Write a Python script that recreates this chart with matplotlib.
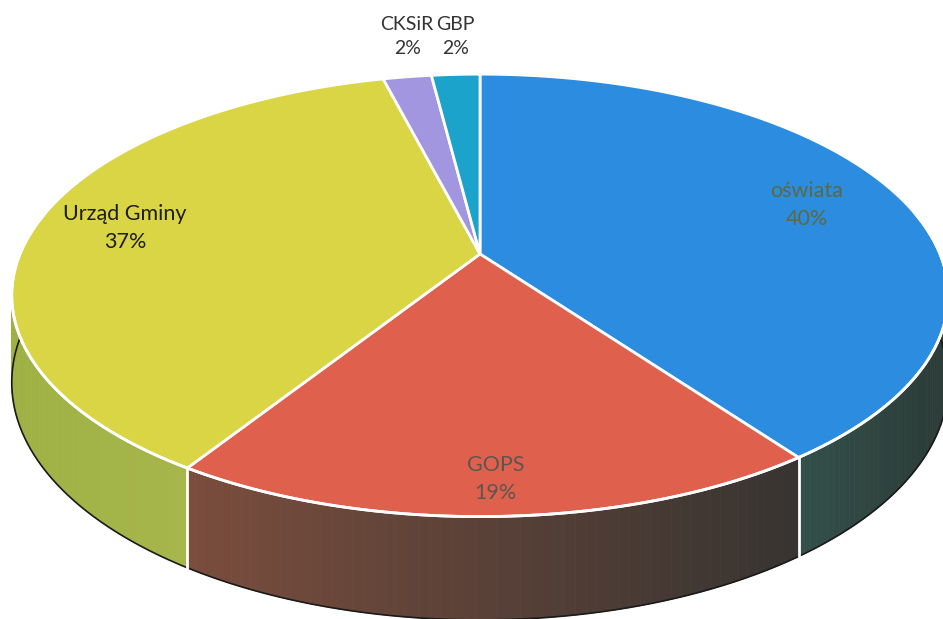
import numpy as np
import matplotlib
matplotlib.use("Agg")
import matplotlib.pyplot as plt
from matplotlib.patches import Polygon
from matplotlib.colors import to_rgb

# ---- data ----
labels = ["oświata", "GOPS", "Urząd Gminy", "CKSiR", "GBP"]
shares = [40, 19, 37, 2, 2]
pct_labels = ["40%", "19%", "37%", "2%", "2%"]

# ---- style ----
top_colors = ["#2B8CE0", "#E0604E", "#D9D545", "#A196DF", "#1CA3CB"]
side_left = ["#33504a", "#7a4d3d", "#9fb145", "#6f64a8", "#137590"]
side_right = ["#2b3a36", "#373431", "#a6b64b", "#6f64a8", "#137590"]
label_colors = ["#5d6a3c", "#5e5552", "#1e1e1e", "#333333", "#333333"]
label_r = [0.78, 0.88, 0.80, None, None]
label_size = [15.5, 15.5, 15.5, 14, 14]

CX, CY, A, B, K, DEPTH = 480.0, 254.0, 460.0, 166.0, 0.187, 84.0


def proj(theta, r=1.0, z=0.0):
    X = r * np.sin(theta)
    Y = -r * np.cos(theta)
    den = 1 - K * Y
    return CX + A * X / den, (B * Y + CY + z) / den


fig = plt.figure(figsize=(9.43, 6.19), dpi=100)
ax = fig.add_axes([0, 0, 1, 1])
ax.set_xlim(0, 943)
ax.set_ylim(619, 0)
ax.axis("off")

total = float(sum(shares))
bounds = np.concatenate([[0], np.cumsum(shares)]) / total * 2 * np.pi
vis0, vis1 = np.pi / 2, 3 * np.pi / 2

# side faces (colour shaded left -> right)
for i in range(len(shares)):
    s0, s1 = max(bounds[i], vis0), min(bounds[i + 1], vis1)
    if s1 <= s0:
        continue
    n = 60
    ts = np.linspace(s0, s1, n + 1)
    xa, _ = proj(ts)
    xmin, xmax = xa.min(), xa.max()
    cl, cr = np.array(to_rgb(side_left[i])), np.array(to_rgb(side_right[i]))
    for j in range(n):
        ta = np.linspace(ts[j], ts[j + 1], 3)
        xt, yt = proj(ta)
        xb, yb = proj(ta, z=DEPTH)
        f = (xt.mean() - xmin) / max(xmax - xmin, 1e-9)
        c = cl * (1 - f) + cr * f
        poly = np.column_stack([np.r_[xt, xb[::-1]], np.r_[yt, yb[::-1]]])
        ax.add_patch(Polygon(poly, closed=True, facecolor=c, edgecolor=c, lw=0.6, zorder=1))

# bottom outline
ta = np.linspace(vis0 - 0.2, vis1 + 0.2, 300)
xb, yb = proj(ta, z=DEPTH)
ax.plot(xb, yb, color="#1a1a1a", lw=1.2, zorder=2)

# vertical white edges on side at slice boundaries
for t in bounds[1:-1]:
    if vis0 < t < vis1:
        x0, y0 = proj(t)
        x1, y1 = proj(t, z=DEPTH)
        ax.plot([x0, x1], [y0, y1], color="white", lw=2, zorder=3)

# top faces
for i in range(len(shares)):
    ts = np.linspace(bounds[i], bounds[i + 1], 200)
    xs, ys = proj(ts)
    poly = np.column_stack([np.r_[CX, xs], np.r_[CY, ys]])
    ax.add_patch(Polygon(poly, closed=True, facecolor=top_colors[i],
                         edgecolor="white", lw=2, joinstyle="round", zorder=4))

# white front rim
xr, yr = proj(np.linspace(vis0 - 0.2, vis1 + 0.2, 300))
ax.plot(xr, yr, color="white", lw=2, zorder=5)

# labels
font = "Lato"
for i in range(len(shares)):
    mid = (bounds[i] + bounds[i + 1]) / 2
    if label_r[i] is not None:
        x, y = proj(mid, r=label_r[i])
    else:
        x, _ = proj(mid)
        y = 37
    ax.text(x, y, f"{labels[i]}\n{pct_labels[i]}", ha="center", va="center",
            fontsize=label_size[i], color=label_colors[i], family=font,
            linespacing=1.5, zorder=6)

fig.savefig("out.png", dpi=100, facecolor="white")
